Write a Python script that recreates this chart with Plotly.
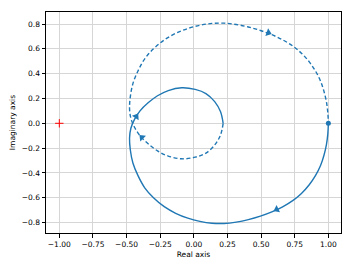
import math
import plotly.graph_objects as go

# Nyquist curve for positive frequencies (real, imaginary)
re_pos = [1.000, 0.996, 0.986, 0.968, 0.942, 0.905, 0.858, 0.800, 0.735, 0.660,
          0.580, 0.495, 0.405, 0.315, 0.225, 0.135, 0.045, -0.045, -0.135, -0.220,
          -0.300, -0.365, -0.416, -0.453, -0.472, -0.478, -0.468, -0.442, -0.400, -0.340,
          -0.270, -0.190, -0.090, 0.010, 0.090, 0.155, 0.198, 0.218]
im_pos = [0.000, -0.085, -0.170, -0.255, -0.340, -0.420, -0.495, -0.565, -0.623, -0.673,
          -0.714, -0.748, -0.776, -0.796, -0.807, -0.805, -0.790, -0.764, -0.725, -0.672,
          -0.600, -0.520, -0.420, -0.320, -0.215, -0.120, -0.040, 0.030, 0.100, 0.165,
          0.222, 0.264, 0.286, 0.273, 0.240, 0.175, 0.095, 0.000]

# arrow positions (positive-frequency curve and negative-frequency curve)
solid_arrow_re = [0.616, -0.428]
solid_arrow_im = [-0.694, 0.055]
dashed_arrow_re = [0.554, -0.386]
dashed_arrow_im = [0.730, -0.114]

# negative frequencies: mirror image traversed in reverse
re_neg = list(reversed(re_pos))
im_neg = [-v for v in reversed(im_pos)]

critical_point = (-1.0, 0.0)

x_ticks = [-1.0, -0.75, -0.5, -0.25, 0.0, 0.25, 0.5, 0.75, 1.0]
y_ticks = [-0.8, -0.6, -0.4, -0.2, 0.0, 0.2, 0.4, 0.6, 0.8]

COLOR = "#1f77b4"
SX, SY = 134.7, 123.75  # approximate px per unit, for arrow orientation


def arrow_angle(xs, ys, px, py):
    # direction of the curve segment nearest to (px, py)
    best, bi = None, 0
    for i in range(len(xs) - 1):
        mx, my = (xs[i] + xs[i + 1]) / 2, (ys[i] + ys[i + 1]) / 2
        d = (mx - px) ** 2 + (my - py) ** 2
        if best is None or d < best:
            best, bi = d, i
    dx = (xs[bi + 1] - xs[bi]) * SX
    dy = (ys[bi + 1] - ys[bi]) * SY
    return math.degrees(math.atan2(dx, dy))


fig = go.Figure()
fig.add_trace(go.Scatter(x=re_pos, y=im_pos, mode="lines",
                         line=dict(color=COLOR, width=1.4, shape="spline", smoothing=1.0),
                         hoverinfo="skip", showlegend=False))
fig.add_trace(go.Scatter(x=re_neg, y=im_neg, mode="lines",
                         line=dict(color=COLOR, width=1.4, dash="4px,2.5px", shape="spline", smoothing=1.0),
                         hoverinfo="skip", showlegend=False))

ax = solid_arrow_re + dashed_arrow_re
ay = solid_arrow_im + dashed_arrow_im
ang = [arrow_angle(re_pos, im_pos, x, y) for x, y in zip(solid_arrow_re, solid_arrow_im)] + \
      [arrow_angle(re_neg, im_neg, x, y) for x, y in zip(dashed_arrow_re, dashed_arrow_im)]
fig.add_trace(go.Scatter(x=ax, y=ay, mode="markers",
                         marker=dict(symbol="triangle-up", size=7, color=COLOR, angle=ang,
                                     line=dict(width=0)),
                         hoverinfo="skip", showlegend=False))
fig.add_trace(go.Scatter(x=[re_pos[0]], y=[im_pos[0]], mode="markers",
                         marker=dict(symbol="circle", size=5, color=COLOR, line=dict(width=0)),
                         hoverinfo="skip", showlegend=False))
fig.add_trace(go.Scatter(x=[critical_point[0]], y=[critical_point[1]], mode="markers",
                         marker=dict(symbol="cross-thin", size=6, line=dict(color="red", width=1)),
                         hoverinfo="skip", showlegend=False))

axis_common = dict(showline=True, linecolor="black", linewidth=1, mirror=True,
                   ticks="outside", ticklen=3.5, tickwidth=0.8, tickcolor="black",
                   showgrid=True, gridcolor="#d6d6d6", gridwidth=1, zeroline=False,
                   tickfont=dict(family="DejaVu Sans", size=7.5, color="black"))

fig.update_xaxes(range=[-1.099, 1.094], tickvals=x_ticks, tickformat=".2f",
                 title=dict(text="Real axis", font=dict(family="DejaVu Sans", size=7.5, color="black"),
                            standoff=4),
                 **axis_common)
fig.update_yaxes(range=[-0.884, 0.897], tickvals=y_ticks, tickformat=".1f",
                 title=dict(text="Imaginary axis", font=dict(family="DejaVu Sans", size=7.5, color="black"),
                            standoff=5),
                 **axis_common)

fig.update_layout(width=352, height=265, margin=dict(l=46, r=11, t=12, b=32, autoexpand=False),
                  plot_bgcolor="white", paper_bgcolor="white",
                  font=dict(family="DejaVu Sans", size=7.5, color="black"))
fig.write_html("out.html")
